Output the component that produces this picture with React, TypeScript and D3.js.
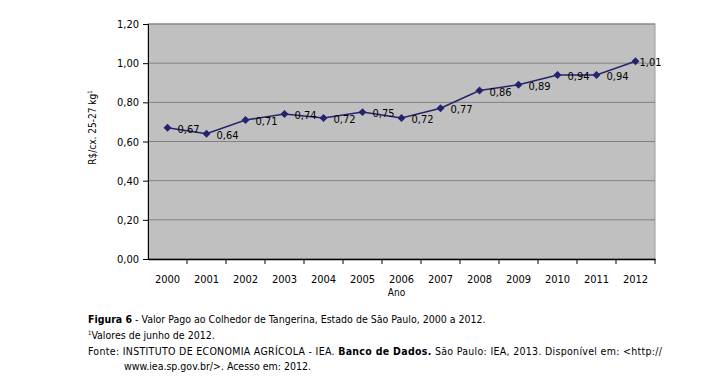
import React, { useEffect, useRef } from "react";
import * as d3 from "d3";

const years = ["2000", "2001", "2002", "2003", "2004", "2005", "2006", "2007", "2008", "2009", "2010", "2011", "2012"];
const values = [0.67, 0.64, 0.71, 0.74, 0.72, 0.75, 0.72, 0.77, 0.86, 0.89, 0.94, 0.94, 1.01];
const yTicks = [0, 0.2, 0.4, 0.6, 0.8, 1.0, 1.2];

const font = "'DejaVu Sans Condensed', 'DejaVu Sans', Verdana, sans-serif";
const fmt = (v: number) => v.toFixed(2).replace(".", ",");

export default function App() {
  const ref = useRef<SVGSVGElement>(null);

  useEffect(() => {
    const svg = d3.select(ref.current);
    svg.selectAll("*").remove();

    const margin = { top: 24, left: 148, right: 73, bottom: 133 };
    const width = 728 - margin.left - margin.right,
      height = 392 - margin.top - margin.bottom;

    const g = svg.append("g").attr("transform", "translate(" + margin.left + "," + margin.top + ")");

    const x = d3.scaleBand().domain(years).range([0, width]);
    const y = d3.scaleLinear().domain([0, 1.2]).range([height, 0]);

    // plot area
    g.append("rect")
      .attr("width", width)
      .attr("height", height)
      .attr("fill", "#c0c0c0")
      .attr("stroke", "#9a9a9a");

    // gridlines
    g.selectAll(".grid")
      .data(yTicks.slice(1))
      .enter()
      .append("line")
      .attr("x1", 0)
      .attr("x2", width)
      .attr("y1", (d) => y(d))
      .attr("y2", (d) => y(d))
      .attr("stroke", "#808080")
      .attr("stroke-width", 1);

    // y axis
    const ya = g.append("g").call(d3.axisLeft(y).tickValues(yTicks).tickSize(5).tickFormat((d) => fmt(+d)));
    ya.select(".domain").attr("stroke", "#000");
    ya.selectAll("text").attr("font-family", font).attr("font-size", 11).attr("fill", "#000").attr("x", -9);

    // x axis
    const xa = g.append("g").attr("transform", "translate(0," + height + ")").call(d3.axisBottom(x).tickSize(0));
    xa.select(".domain").attr("stroke", "#000").attr("stroke-width", 1.5);
    xa.selectAll("text").attr("font-family", font).attr("font-size", 11).attr("fill", "#000").attr("dy", "1.9em");
    g.selectAll(".xtick")
      .data(years.slice(1).concat(["end"]))
      .enter()
      .append("line")
      .attr("x1", (d, i) => x.step() * (i + 1))
      .attr("x2", (d, i) => x.step() * (i + 1))
      .attr("y1", height)
      .attr("y2", height + 5)
      .attr("stroke", "#000");

    // line
    const line = d3.line<number>()
      .x((d, i) => x(years[i])! + x.bandwidth() / 2)
      .y((d) => y(d));
    g.append("path")
      .datum(values)
      .attr("d", line)
      .attr("fill", "none")
      .attr("stroke", "#25236e")
      .attr("stroke-width", 1.5);

    // markers
    g.selectAll(".pt")
      .data(values)
      .enter()
      .append("path")
      .attr("d", d3.symbol().type(d3.symbolDiamond2).size(40))
      .attr("transform", (d, i) => "translate(" + (x(years[i])! + x.bandwidth() / 2) + "," + y(d) + ")")
      .attr("fill", "#25236e");

    // value labels (last one sits against the plot edge)
    g.selectAll(".lbl")
      .data(values)
      .enter()
      .append("text")
      .attr("x", (d, i) => x(years[i])! + x.bandwidth() / 2 + (i === values.length - 1 ? 4 : 10))
      .attr("y", (d) => y(d) + 5)
      .attr("font-family", font)
      .attr("font-size", 11)
      .attr("fill", "#000")
      .text((d) => fmt(d));

    // axis titles
    g.append("text")
      .attr("x", width / 2 - 5)
      .attr("y", height + 37)
      .attr("text-anchor", "middle")
      .attr("font-family", font)
      .attr("font-size", 10)
      .text("Ano");

    const yt = g.append("text")
      .attr("transform", "translate(" + (-52) + "," + (height / 2 - 14) + ") rotate(-90)")
      .attr("text-anchor", "middle")
      .attr("font-family", font)
      .attr("font-size", 10)
      .text("R$/cx. 25-27 kg");
    yt.append("tspan").attr("font-size", 6).attr("dy", -4).text("1");

    // caption
    const cap = svg.append("g").attr("font-family", font).attr("font-size", 10.5).attr("fill", "#000");
    const l1 = cap.append("text").attr("x", 88).attr("y", 323);
    l1.append("tspan").attr("font-weight", "bold").text("Figura 6");
    l1.append("tspan").text(" - Valor Pago ao Colhedor de Tangerina, Estado de São Paulo, 2000 a 2012.");

    const l2 = cap.append("text").attr("x", 88).attr("y", 339);
    l2.append("tspan").attr("font-size", 6).attr("dy", -4).text("1");
    l2.append("tspan").attr("dy", 4).text("Valores de junho de 2012.");

    const l3 = cap.append("text").attr("x", 88).attr("y", 355).attr("textLength", 574).attr("lengthAdjust", "spacing");
    l3.append("tspan").text("Fonte: INSTITUTO DE ECONOMIA AGRÍCOLA - IEA. ");
    l3.append("tspan").attr("font-weight", "bold").text("Banco de Dados.");
    l3.append("tspan").text(" São Paulo: IEA, 2013. Disponível em: <http://");

    cap.append("text").attr("x", 124).attr("y", 370).text("www.iea.sp.gov.br/>. Acesso em: 2012.");
  }, []);

  return (
    <div style={{ position: "absolute", left: 0, top: 0 }}>
      <svg ref={ref} width={728} height={392} style={{ display: "block", background: "#fff" }} />
    </div>
  );
}
